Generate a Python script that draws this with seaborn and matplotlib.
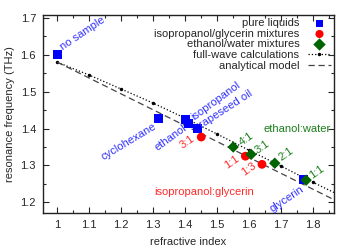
import numpy as np
import pandas as pd
import matplotlib
matplotlib.use('Agg')
import matplotlib.pyplot as plt
import seaborn as sns
from matplotlib.ticker import MultipleLocator

# data
pure_names = ['no sample', 'cyclohexane', 'ethanol', 'isopropanol', 'rapeseed oil', 'glycerin']
pure_n = [1.00, 1.316, 1.400, 1.410, 1.437, 1.770]
pure_f = [1.600, 1.428, 1.425, 1.415, 1.400, 1.262]

ig_names = ['3:1', '1:1', '1:3']
ig_n = [1.450, 1.588, 1.640]
ig_f = [1.377, 1.325, 1.303]

ew_names = ['4:1', '3:1', '2:1', '1:1']
ew_n = [1.550, 1.606, 1.680, 1.778]
ew_f = [1.350, 1.330, 1.306, 1.260]

fw_n = [1.0, 1.1, 1.2, 1.3, 1.4, 1.5, 1.6, 1.7, 1.8, 1.9]
fw_f = [1.580, 1.545, 1.507, 1.469, 1.428, 1.385, 1.341, 1.298, 1.254, 1.212]

am_n = [1.0, 1.87]
am_f = [1.580, 1.205]

sns.set_style('ticks')
plt.rcParams['font.family'] = ['Liberation Sans', 'DejaVu Sans']
fs = 8

fig = plt.figure(figsize=(3.38, 2.5), dpi=100)
ax = fig.add_axes([0.127, 0.148, 0.861, 0.792])

sns.lineplot(x=fw_n, y=fw_f, ax=ax, color='black', linestyle=':', linewidth=0.9,
             marker='o', markersize=2.5, markeredgewidth=0, sort=False, estimator=None,
             label='full-wave calculations')
sns.lineplot(x=am_n, y=am_f, ax=ax, color='#444444', linewidth=0.9,
             sort=False, estimator=None, label='analytical model')
ax.lines[-1].set_dashes((5, 3))

sns.scatterplot(x=pure_n, y=pure_f, ax=ax, marker='s', s=42, color='#0000ff',
                edgecolor='none', label='pure liquids', zorder=3)
sns.scatterplot(x=ig_n, y=ig_f, ax=ax, marker='o', s=40, color='#ff0000',
                edgecolor='none', label='isopropanol/glycerin mixtures', zorder=3)
sns.scatterplot(x=ew_n, y=ew_f, ax=ax, marker='D', s=34, color='#006400',
                edgecolor='none', label='ethanol/water mixtures', zorder=4)

blue_t = '#3030ff'
red_t = '#ff2a2a'
green_t = '#1a7f1a'

# pure liquid labels
ax.text(1.02, 1.608, 'no sample', color=blue_t, fontsize=fs, rotation=34, ha='left', va='bottom', rotation_mode='anchor')
ax.text(1.30, 1.420, 'cyclohexane', color=blue_t, fontsize=fs, rotation=31, ha='right', va='top', rotation_mode='anchor')
ax.text(1.393, 1.415, 'ethanol', color=blue_t, fontsize=fs, rotation=36, ha='right', va='top', rotation_mode='anchor')
ax.text(1.43, 1.418, 'isopropanol', color=blue_t, fontsize=fs, rotation=36, ha='left', va='bottom', rotation_mode='anchor')
ax.text(1.455, 1.395, 'rapeseed oil', color=blue_t, fontsize=fs, rotation=33, ha='left', va='bottom', rotation_mode='anchor')
ax.text(1.76, 1.250, 'glycerin', color=blue_t, fontsize=fs, rotation=34, ha='right', va='top', rotation_mode='anchor')

# isopropanol:glycerin labels
for txt, xx, yy in zip(ig_names, [1.406, 1.544, 1.600], [1.362, 1.310, 1.289]):
    ax.text(xx, yy, txt, color=red_t, fontsize=fs, rotation=35, ha='center', va='center')
ax.text(1.46, 1.227, 'isopropanol:glycerin', color=red_t, fontsize=fs, ha='center', va='center')

# ethanol:water labels
for txt, xx, yy in zip(ew_names, [1.590, 1.640, 1.714, 1.810], [1.370, 1.351, 1.330, 1.283]):
    ax.text(xx, yy, txt, color=green_t, fontsize=fs, rotation=35, ha='center', va='center')
ax.text(1.75, 1.400, 'ethanol:water', color=green_t, fontsize=fs, ha='center', va='center')

ax.set_xlim(0.955, 1.865)
ax.set_ylim(1.171, 1.708)
ax.xaxis.set_minor_locator(MultipleLocator(0.05))
ax.yaxis.set_minor_locator(MultipleLocator(0.05))
ax.set_xticks([1.0, 1.1, 1.2, 1.3, 1.4, 1.5, 1.6, 1.7, 1.8])
ax.set_xticklabels(['1', '1.1', '1.2', '1.3', '1.4', '1.5', '1.6', '1.7', '1.8'])
ax.set_yticks([1.2, 1.3, 1.4, 1.5, 1.6, 1.7])
ax.set_yticklabels(['1.2', '1.3', '1.4', '1.5', '1.6', '1.7'])
ax.tick_params(which='both', direction='in', top=True, right=True, labelsize=fs, width=0.8, pad=5)
ax.tick_params(which='major', length=4)
ax.tick_params(which='minor', length=2)
for sp in ax.spines.values():
    sp.set_linewidth(1.0)
    sp.set_color('#222222')

ax.set_xlabel('refractive index', fontsize=fs, labelpad=5)
ax.set_ylabel('resonance frequency (THz)', fontsize=fs, labelpad=4)

h, l = ax.get_legend_handles_labels()
order = ['pure liquids', 'isopropanol/glycerin mixtures', 'ethanol/water mixtures',
         'full-wave calculations', 'analytical model']
hd = dict(zip(l, h))
leg = ax.legend([hd[k] for k in order], order, loc='upper right', frameon=False, markerfirst=False,
                fontsize=fs, handlelength=2.0, handletextpad=0.8, labelspacing=0.05,
                borderaxespad=0.1, borderpad=0.2, numpoints=1)
for hh, sz in zip(leg.legend_handles[:3], [26, 34, 40]):
    hh.set_sizes([sz])

fig.savefig('out.png', dpi=100)
